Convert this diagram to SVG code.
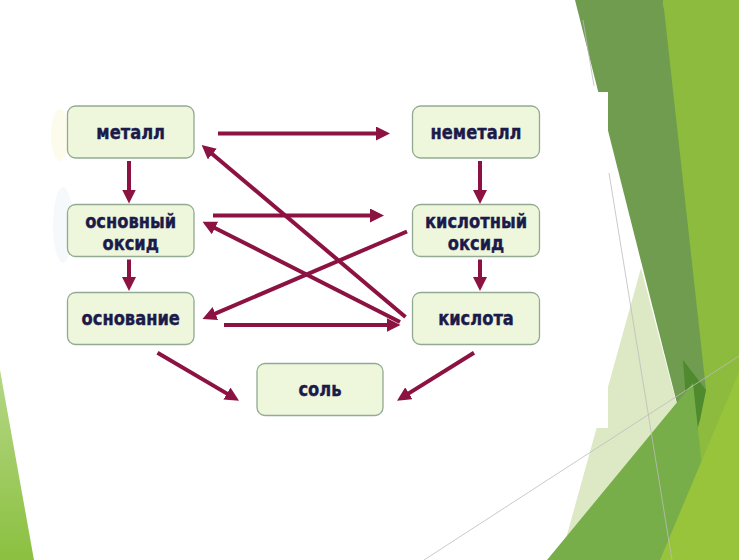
<svg xmlns="http://www.w3.org/2000/svg" width="739" height="560" viewBox="0 0 739 560">
  <defs>
    <style>
      .box { fill: #eef6dc; stroke: #92aa92; stroke-width: 1.3; }
      .t { font-family: "DejaVu Sans", Verdana, sans-serif; font-weight: bold; font-size: 16.3px; fill: #1b1a4a; stroke: #1b1a4a; stroke-width: 0.35; text-anchor: middle; }
      .c { stroke: #8b1241; stroke-width: 4; fill: none; marker-end: url(#ah); }
      .g { stroke: #bdbdbd; stroke-width: 0.8; fill: none; }
    </style>
    <marker id="ah" markerUnits="userSpaceOnUse" markerWidth="14" markerHeight="14" refX="4" refY="7" orient="auto">
      <path d="M0,0 L14,7 L0,14 Z" fill="#8b1241"/>
    </marker>
    <linearGradient id="lg" x1="0" y1="0" x2="0" y2="1">
      <stop offset="0" stop-color="#b5d786"/>
      <stop offset="1" stop-color="#8bc040"/>
    </linearGradient>
  </defs>

  <rect width="739" height="560" fill="#ffffff"/>

  <g id="decor">
    <polygon points="663,0 739,0 739,560 700,560" fill="#8cbb3e"/>
    <polygon points="575,0 663,0 706,390 690,455" fill="#6f9c4e"/>
    <polygon points="641,268 690,455 640,520 560,560" fill="#dde9c5"/>
    <polygon points="683,360 706,390 700,420 690,455" fill="#4f8a2e"/>
    <polygon points="547,560 693,383 712,560" fill="#77ae49"/>
    <polygon points="660,560 739,372 739,560" fill="#97c43b"/>
    <polygon points="0,370 34,560 0,560" fill="url(#lg)"/>
    <line class="g" x1="583" y1="20" x2="594" y2="86"/>
    <line class="g" x1="609" y1="173" x2="672" y2="560"/>
    <line class="g" x1="424" y1="560" x2="739" y2="356"/>
    <rect x="18" y="92" width="590" height="336" fill="#ffffff"/>
    <ellipse cx="60" cy="135" rx="9" ry="26" fill="#fcf9e4" opacity="0.7"/>
    <ellipse cx="63" cy="225" rx="10" ry="38" fill="#f1f6fa" opacity="0.7"/>
  </g>

  <g id="n-metall">
    <rect class="box" x="67.5" y="106" width="126.5" height="52" rx="8"/>
    <text class="t" transform="translate(130.7,139) scale(1,1.2)">металл</text>
  </g>
  <g id="n-nemetall">
    <rect class="box" x="412.5" y="106" width="127" height="52" rx="8"/>
    <text class="t" transform="translate(476,139) scale(1,1.2)">неметалл</text>
  </g>
  <g id="n-osnovnyi-oksid">
    <rect class="box" x="67.5" y="204.5" width="126.5" height="52" rx="8"/>
    <text class="t" transform="translate(130.7,227.5) scale(1,1.2)">основный</text>
    <text class="t" transform="translate(130.7,250) scale(1,1.2)">оксид</text>
  </g>
  <g id="n-kislotnyi-oksid">
    <rect class="box" x="412.5" y="204.5" width="127" height="52" rx="8"/>
    <text class="t" transform="translate(476,227.5) scale(1,1.2)">кислотный</text>
    <text class="t" transform="translate(476,250) scale(1,1.2)">оксид</text>
  </g>
  <g id="n-osnovanie">
    <rect class="box" x="67.5" y="292.5" width="126.5" height="52" rx="8"/>
    <text class="t" transform="translate(130.7,325) scale(1,1.2)">основание</text>
  </g>
  <g id="n-kislota">
    <rect class="box" x="412.5" y="292.5" width="127" height="52" rx="8"/>
    <text class="t" transform="translate(476,325) scale(1,1.2)">кислота</text>
  </g>
  <g id="n-sol">
    <rect class="box" x="257" y="363.5" width="126" height="52" rx="8"/>
    <text class="t" transform="translate(320,396) scale(1,1.2)">соль</text>
  </g>

  <g id="connectors">
    <line class="c" x1="218" y1="133.5" x2="380" y2="133.5"/>
    <line class="c" x1="129" y1="161" x2="129" y2="193.5"/>
    <line class="c" x1="480" y1="161" x2="480" y2="194"/>
    <line class="c" x1="213" y1="215.5" x2="374" y2="215.5"/>
    <line class="c" x1="129" y1="259.5" x2="129" y2="281"/>
    <line class="c" x1="480" y1="259.5" x2="480" y2="281"/>
    <line class="c" x1="405.5" y1="317" x2="209.3" y2="151.5"/>
    <line class="c" x1="400" y1="322" x2="211.4" y2="226.2"/>
    <line class="c" x1="407" y1="231.5" x2="211.7" y2="315.1"/>
    <line class="c" x1="224" y1="325" x2="390.5" y2="325"/>
    <line class="c" x1="157.5" y1="352.8" x2="230.4" y2="395.6"/>
    <line class="c" x1="474" y1="352.8" x2="405.5" y2="395.4"/>
  </g>
</svg>
